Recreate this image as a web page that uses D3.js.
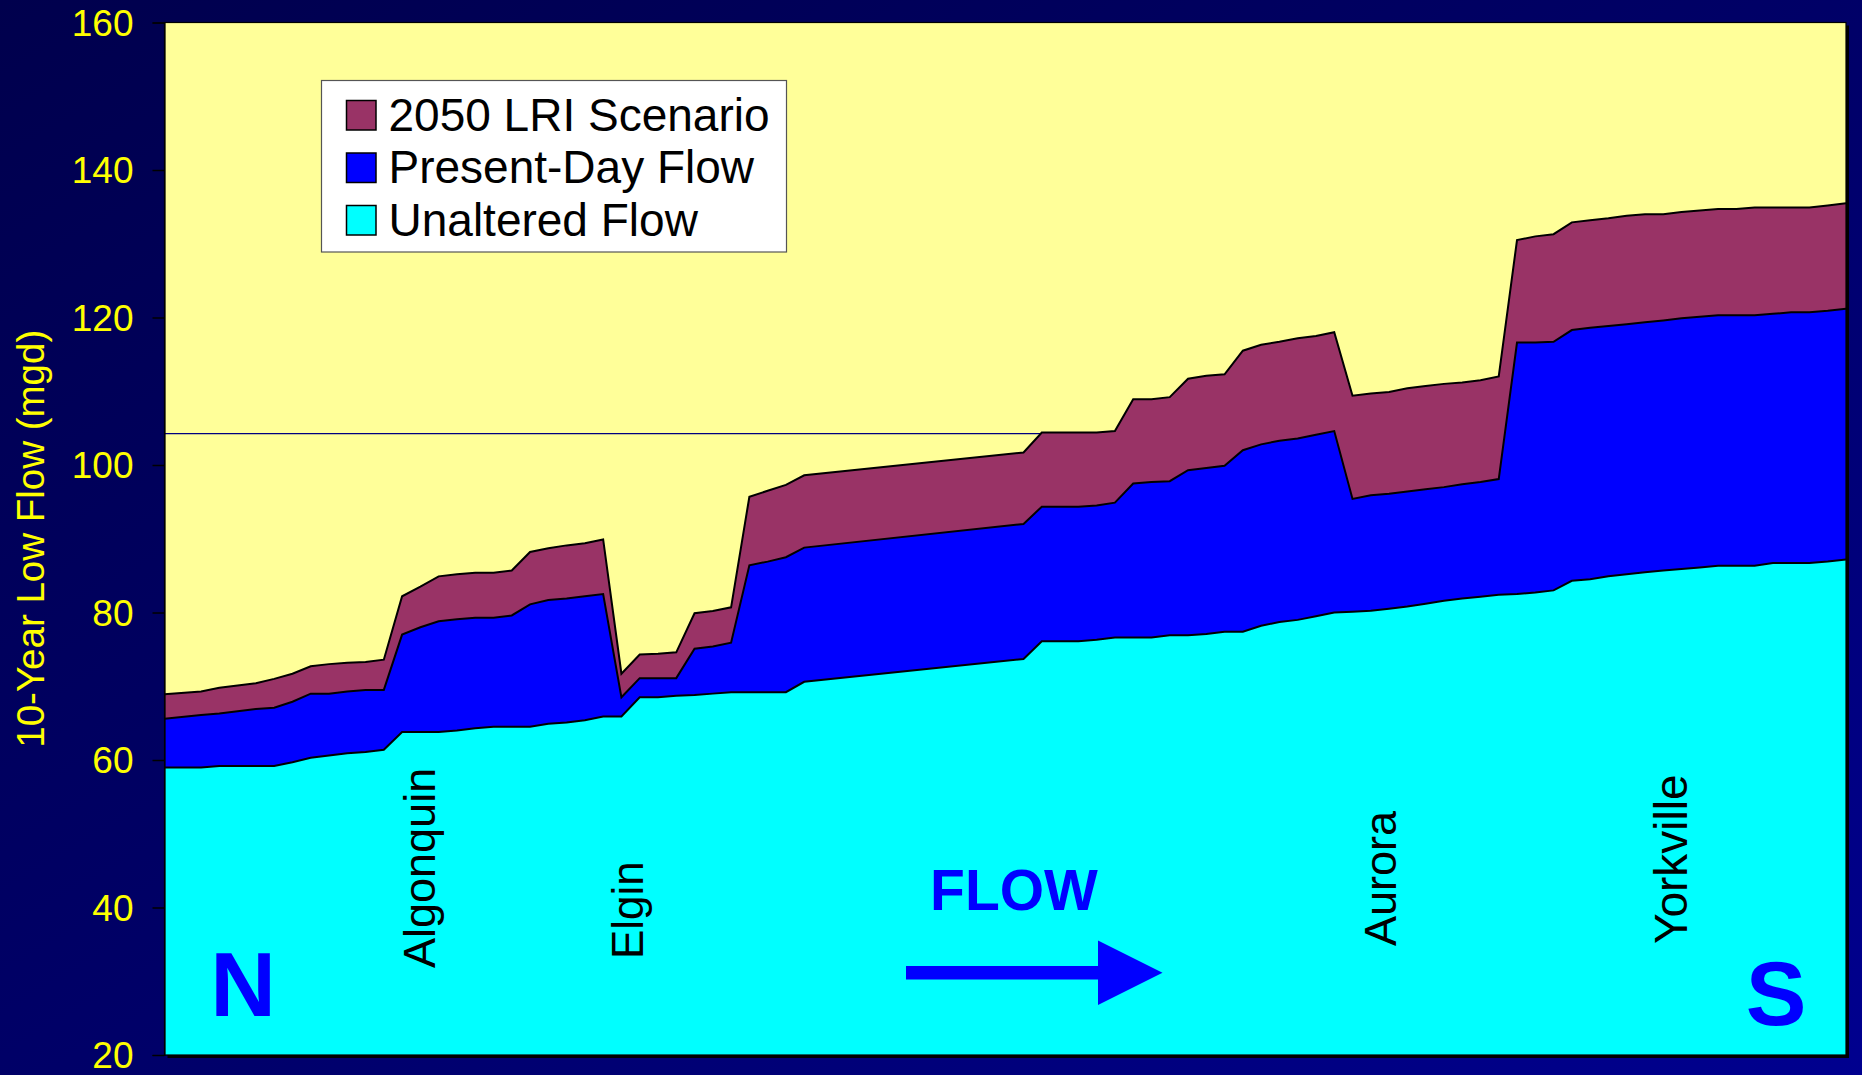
<!DOCTYPE html>
<html>
<head>
<meta charset="utf-8">
<script src="https://cdn.jsdelivr.net/npm/d3@7"></script>
<style>
  html, body { margin: 0; padding: 0; background: #000066; overflow: hidden; }
  svg { display: block; }
</style>
</head>
<body>
<div id="chart"></div>
<script>
// station index along the river, north to south
var station = [0, 2, 3, 5, 6, 7, 8, 9, 10, 11, 12, 13, 14, 15, 16, 17, 18, 19, 20, 21, 22, 23, 24,
  25, 26, 27, 28, 29, 30, 31, 32, 33, 34, 35, 47, 48, 50, 51, 52, 53, 54, 55, 56, 57, 58, 59, 60,
  61, 62, 63, 64, 65, 66, 67, 68, 69, 70, 71, 72, 73, 74, 75, 76, 77, 78, 79, 80, 81, 82, 83, 84,
  85, 86, 87, 88, 89, 90, 91, 92];

// 10-year low flow, mgd
var lriFlow = [68.9, 69.3, 69.8, 70.4, 71.0, 71.7, 72.7, 73.0, 73.2, 73.3, 73.6, 82.2, 83.5, 84.9,
  85.2, 85.4, 85.4, 85.7, 88.2, 88.7, 89.1, 89.4, 89.9,
  71.7, 74.3, 74.4, 74.6, 79.9, 80.2, 80.7, 95.7, 96.5, 97.3, 98.6, 101.7, 104.4, 104.4, 104.4,
  104.6, 108.9, 108.9, 109.2, 111.7, 112.1, 112.3, 115.5, 116.3,
  116.7, 117.2, 117.5, 118.0, 109.4, 109.7, 109.9, 110.4, 110.7, 111.0, 111.2, 111.5, 112.0,
  130.5, 131.0, 131.3, 132.9, 133.2, 133.45, 133.8, 134.0, 134.0, 134.3, 134.5,
  134.7, 134.7, 134.9, 134.9, 134.9, 134.9, 135.2, 135.5];

var presentFlow = [65.6, 66.1, 66.3, 66.9, 67.1, 67.9, 69.0, 69.0, 69.3, 69.5, 69.5, 77.0, 78.0, 78.8,
  79.1, 79.3, 79.3, 79.6, 81.1, 81.7, 81.9, 82.2, 82.5,
  68.5, 71.1, 71.1, 71.1, 75.1, 75.4, 75.9, 86.4, 86.9, 87.5, 88.8, 92.0, 94.35, 94.35, 94.5,
  94.9, 97.5, 97.7, 97.8, 99.3, 99.6, 99.9, 102.0, 102.8,
  103.3, 103.6, 104.1, 104.6, 95.4, 95.9, 96.1, 96.4, 96.7, 97.0, 97.4, 97.7, 98.1,
  116.6, 116.6, 116.7, 118.3, 118.6, 118.85, 119.1, 119.35, 119.6, 119.9, 120.1,
  120.3, 120.3, 120.3, 120.5, 120.7, 120.7, 120.9, 121.2];

var unalteredFlow = [59.0, 59.0, 59.2, 59.2, 59.2, 59.7, 60.3, 60.6, 60.9, 61.1, 61.4, 63.8, 63.8, 63.8,
  64.0, 64.3, 64.5, 64.5, 64.5, 64.9, 65.1, 65.4, 65.9,
  65.9, 68.5, 68.5, 68.7, 68.8, 69.0, 69.2, 69.2, 69.2, 69.2, 70.6, 73.7, 76.1, 76.1, 76.3,
  76.6, 76.6, 76.6, 76.9, 76.9, 77.1, 77.4, 77.4, 78.2,
  78.7, 79.0, 79.5, 80.0, 80.1, 80.25, 80.5, 80.8, 81.2, 81.6, 81.9, 82.15, 82.4,
  82.5, 82.7, 83.0, 84.3, 84.5, 84.9, 85.2, 85.45, 85.7, 85.9, 86.1,
  86.35, 86.35, 86.35, 86.7, 86.7, 86.7, 86.9, 87.2];

var seriesNames = ["2050 LRI Scenario", "Present-Day Flow", "Unaltered Flow"];
var seriesColors = ["#993366", "#0000FF", "#00FFFF"];
var yTicks = [20, 40, 60, 80, 100, 120, 140, 160];
var refLine = 104.25;

// towns along the river, at station index
var towns = ["Algonquin", "Elgin", "Aurora", "Yorkville"];
var townStation = [14.8, 26.2, 67.4, 83.3];

var W = 1862, H = 1075;
var margin = {t: 22.5, r: 16, b: 20, l: 164.5};

var svg = d3.select("#chart").append("svg")
  .attr("width", W)
  .attr("height", H);

// background gradient
var defs = svg.append("defs");
var bg = defs.append("linearGradient")
  .attr("id", "bg")
  .attr("x1", "0%").attr("y1", "0%")
  .attr("x2", "100%").attr("y2", "100%");
bg.append("stop").attr("offset", "0%").attr("stop-color", "#00004d");
bg.append("stop").attr("offset", "55%").attr("stop-color", "#00006a");
bg.append("stop").attr("offset", "100%").attr("stop-color", "#00008f");

svg.append("rect").attr("width", W).attr("height", H).attr("fill", "url(#bg)");

var x = d3.scaleLinear().domain([0, 92]).range([margin.l, W - margin.r]);
var y = d3.scaleLinear().domain([20, 160]).range([H - margin.b, margin.t]);

var pw = x(92) - x(0), ph = y(20) - y(160);

// plot shadow + plot area
svg.append("rect")
  .attr("x", x(0) + 3).attr("y", y(160) + 3)
  .attr("width", pw).attr("height", ph)
  .attr("fill", "#000000");
svg.append("rect")
  .attr("x", x(0)).attr("y", y(160))
  .attr("width", pw).attr("height", ph)
  .attr("fill", "#FFFF99");

// thin reference line, behind the areas
svg.append("line")
  .attr("x1", x(0)).attr("x2", x(92))
  .attr("y1", y(refLine)).attr("y2", y(refLine))
  .attr("stroke", "#000080")
  .attr("stroke-width", 1.2);

var allSeries = [lriFlow, presentFlow, unalteredFlow];

var area = d3.area()
  .x(function(d, i) { return x(station[i]); })
  .y0(y(20))
  .y1(function(d) { return y(d); });

var line = d3.line()
  .x(function(d, i) { return x(station[i]); })
  .y(function(d) { return y(d); });

allSeries.forEach(function(s, k) {
  svg.append("path")
    .attr("d", area(s))
    .attr("fill", seriesColors[k]);
  svg.append("path")
    .attr("d", line(s))
    .attr("fill", "none")
    .attr("stroke", "#000")
    .attr("stroke-width", 2)
    .attr("stroke-linejoin", "miter");
});

// plot border
svg.append("rect")
  .attr("x", x(0)).attr("y", y(160))
  .attr("width", pw).attr("height", ph)
  .attr("fill", "none")
  .attr("stroke", "#000")
  .attr("stroke-width", 1.2);

// y axis
var yAxis = d3.axisLeft(y).tickValues(yTicks).tickSize(12).tickPadding(19);
var gy = svg.append("g")
  .attr("transform", "translate(" + x(0) + ",0)")
  .call(yAxis);
gy.select(".domain").attr("stroke", "#000").attr("stroke-width", 1.2);
gy.selectAll(".tick line").attr("stroke", "#000").attr("stroke-width", 1.5);
gy.selectAll(".tick text")
  .attr("fill", "#FFFF00")
  .attr("font-family", "Liberation Sans, Arial, sans-serif")
  .attr("font-size", 37)
  .attr("dy", "0.34em");

svg.append("text")
  .attr("transform", "translate(44," + y(90) + ") rotate(-90)")
  .attr("text-anchor", "middle")
  .attr("fill", "#FFFF00")
  .attr("font-family", "Liberation Sans, Arial, sans-serif")
  .attr("font-size", 38.5)
  .text("10-Year Low Flow (mgd)");

// town labels
var townBase = [968, 959, 946, 944];
var townSize = [45, 44, 45, 46];
towns.forEach(function(t, i) {
  svg.append("text")
    .attr("transform", "translate(" + x(townStation[i]) + "," + townBase[i] + ") rotate(-90)")
    .attr("fill", "#000")
    .attr("font-family", "Liberation Sans, Arial, sans-serif")
    .attr("font-size", townSize[i])
    .text(t);
});

// direction markers
var bold = "Liberation Sans, Arial, sans-serif";
svg.append("text")
  .attr("x", 243).attr("y", 1016)
  .attr("text-anchor", "middle")
  .attr("fill", "#0000FF").attr("font-family", bold).attr("font-weight", "bold")
  .attr("font-size", 91).text("N");
svg.append("text")
  .attr("x", 1776).attr("y", 1025)
  .attr("text-anchor", "middle")
  .attr("fill", "#0000FF").attr("font-family", bold).attr("font-weight", "bold")
  .attr("font-size", 91).text("S");
svg.append("text")
  .attr("x", 1014).attr("y", 910)
  .attr("text-anchor", "middle")
  .attr("fill", "#0000FF").attr("font-family", bold).attr("font-weight", "bold")
  .attr("font-size", 57).text("FLOW");

// flow arrow
svg.append("rect")
  .attr("x", 906).attr("y", 966)
  .attr("width", 194).attr("height", 13.5)
  .attr("fill", "#0000FF");
svg.append("path")
  .attr("d", "M1098,940.5 L1162.5,972.7 L1098,1005 Z")
  .attr("fill", "#0000FF");

// legend
var legend = svg.append("g").attr("transform", "translate(321.5,80.5)");
legend.append("rect")
  .attr("width", 465).attr("height", 171.5)
  .attr("fill", "#FFFFFF")
  .attr("stroke", "#555")
  .attr("stroke-width", 1.2);
seriesNames.forEach(function(n, i) {
  var row = legend.append("g").attr("transform", "translate(0," + (i * 52.5) + ")");
  row.append("rect")
    .attr("x", 25).attr("y", 20)
    .attr("width", 29.5).attr("height", 29.5)
    .attr("fill", seriesColors[i])
    .attr("stroke", "#000")
    .attr("stroke-width", 1.5);
  row.append("text")
    .attr("x", 67).attr("y", 50)
    .attr("fill", "#000")
    .attr("font-family", "Liberation Sans, Arial, sans-serif")
    .attr("font-size", 46)
    .text(n);
});
</script>
</body>
</html>
